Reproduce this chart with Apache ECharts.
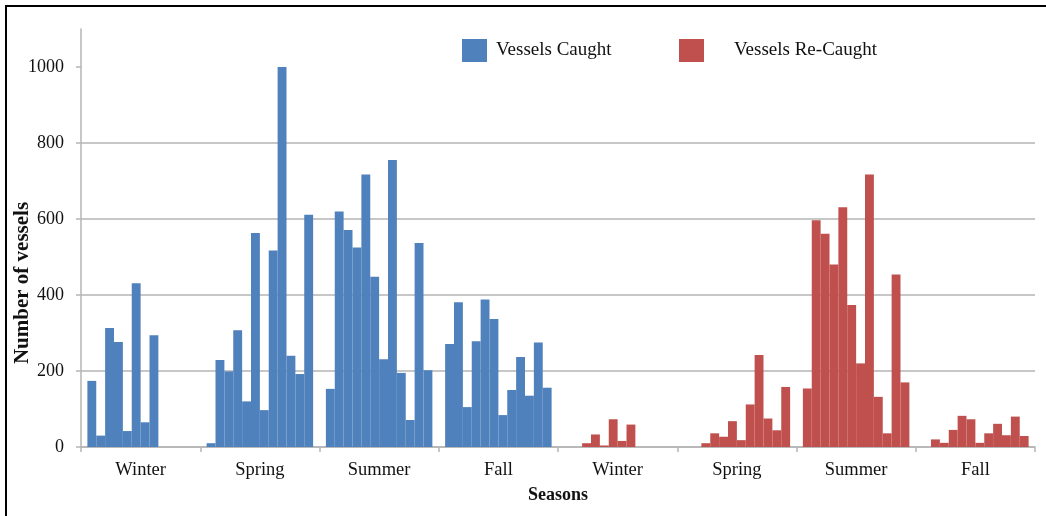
<!DOCTYPE html>
<html>
<head>
<meta charset="utf-8">
<script src="https://cdn.jsdelivr.net/npm/echarts@6/dist/echarts.min.js"></script>
<style>
  html, body { margin: 0; padding: 0; background: #fff; }
  #wrap { position: relative; width: 1046px; height: 516px; overflow: hidden; }
  #chart { position: absolute; left: 0; top: 0; width: 1046px; height: 516px; }
  #frame { position: absolute; left: 5px; top: 5px; width: 1100px; height: 600px;
           border-left: 2px solid #000; border-top: 2px solid #000; pointer-events: none; }
</style>
</head>
<body>
<div id="wrap">
  <div id="chart"></div>
  <div id="frame"></div>
</div>
<script>
// Season groups on the x axis
const seasons = ['Winter', 'Spring', 'Summer', 'Fall', 'Winter', 'Spring', 'Summer', 'Fall'];
// y axis tick labels
const yTicks = [0, 200, 400, 600, 800, 1000];

// Vessels Caught: 12 bars per season
const caughtWinter = [174, 30, 313, 276, 42, 431, 65, 294, 0, 0, 0, 0];
const caughtSpring = [10, 229, 199, 307, 120, 563, 97, 517, 1000, 240, 192, 611];
const caughtSummer = [153, 620, 571, 525, 717, 448, 231, 755, 195, 71, 537, 202];
const caughtFall   = [271, 381, 105, 278, 388, 337, 84, 150, 237, 135, 275, 156];

// Vessels Re-Caught: 12 bars per season
const recaughtWinter = [0, 0, 10, 33, 4, 73, 16, 59, 0, 0, 0, 0];
const recaughtSpring = [0, 0, 10, 36, 27, 68, 18, 112, 242, 75, 44, 158];
const recaughtSummer = [154, 597, 561, 480, 631, 374, 220, 717, 132, 36, 454, 170];
const recaughtFall   = [0, 20, 11, 45, 82, 73, 11, 36, 61, 31, 80, 29];

const groups = [caughtWinter, caughtSpring, caughtSummer, caughtFall,
                recaughtWinter, recaughtSpring, recaughtSummer, recaughtFall];

const BLUE = '#4F81BD';
const RED = '#C0504D';
const FONT = 'Liberation Serif';
const GRID = '#B5B5B5';

const barSeries = [];
for (let i = 0; i < 12; i++) {
  barSeries.push({
    type: 'bar',
    name: 'slot' + (i + 1),
    data: groups.map(g => g[i]),
    barGap: '0%',
    barCategoryGap: '10.7%',
    itemStyle: { color: p => (p.dataIndex < 4 ? BLUE : RED) },
    emphasis: { disabled: true }
  });
}
const legendSeries = [
  { type: 'line', name: 'Vessels Caught', data: [], itemStyle: { color: BLUE }, lineStyle: { color: BLUE } },
  { type: 'line', name: 'Vessels Re-Caught', data: [], itemStyle: { color: RED }, lineStyle: { color: RED } }
];

const chart = echarts.init(document.getElementById('chart'), null, { renderer: 'canvas' });
const legendText = { fontFamily: FONT, fontSize: 19, color: '#111' };
chart.setOption({
  animation: false,
  backgroundColor: '#fff',
  grid: { left: 81, right: 11, top: 29, bottom: 69, containLabel: false, outerBoundsMode: 'none' },
  legend: [
    { data: ['Vessels Caught'], left: 462, top: 39, padding: 0, icon: 'rect',
      itemWidth: 25, itemHeight: 23, selectedMode: false,
      textStyle: Object.assign({ padding: [0, 0, 0, 4] }, legendText) },
    { data: ['Vessels Re-Caught'], left: 679, top: 39, padding: 0, icon: 'rect',
      itemWidth: 25, itemHeight: 23, selectedMode: false,
      textStyle: Object.assign({ padding: [0, 0, 0, 25] }, legendText) }
  ],
  graphic: [{
    type: 'text',
    x: 23,
    y: 283,
    rotation: Math.PI / 2,
    style: {
      text: 'Number of vessels',
      fontFamily: FONT, fontSize: 21, fontWeight: 'bold', fill: '#111',
      textAlign: 'center', textVerticalAlign: 'middle'
    }
  }],
  xAxis: {
    type: 'category',
    data: seasons,
    name: 'Seasons',
    nameLocation: 'middle',
    nameGap: 39,
    nameTextStyle: { fontFamily: FONT, fontSize: 18, fontWeight: 'bold', color: '#111' },
    axisLine: { lineStyle: { color: GRID, width: 1.5 } },
    axisTick: { show: true, length: 5, lineStyle: { color: GRID, width: 1.5 } },
    axisLabel: { fontFamily: FONT, fontSize: 18.5, color: '#111', margin: 14 }
  },
  yAxis: {
    type: 'value',
    min: 0,
    max: 1100,
    interval: 200,
    axisLine: { show: true, lineStyle: { color: GRID, width: 1.5 } },
    axisTick: { show: true, length: 5, customValues: yTicks, lineStyle: { color: GRID, width: 1.5 } },
    axisLabel: { fontFamily: FONT, fontSize: 18, color: '#111', margin: 17, customValues: yTicks,
                 formatter: v => String(v) },
    splitLine: { show: true, showMaxLine: false, lineStyle: { color: GRID, width: 1.5 } }
  },
  series: barSeries.concat(legendSeries)
});
</script>
</body>
</html>
